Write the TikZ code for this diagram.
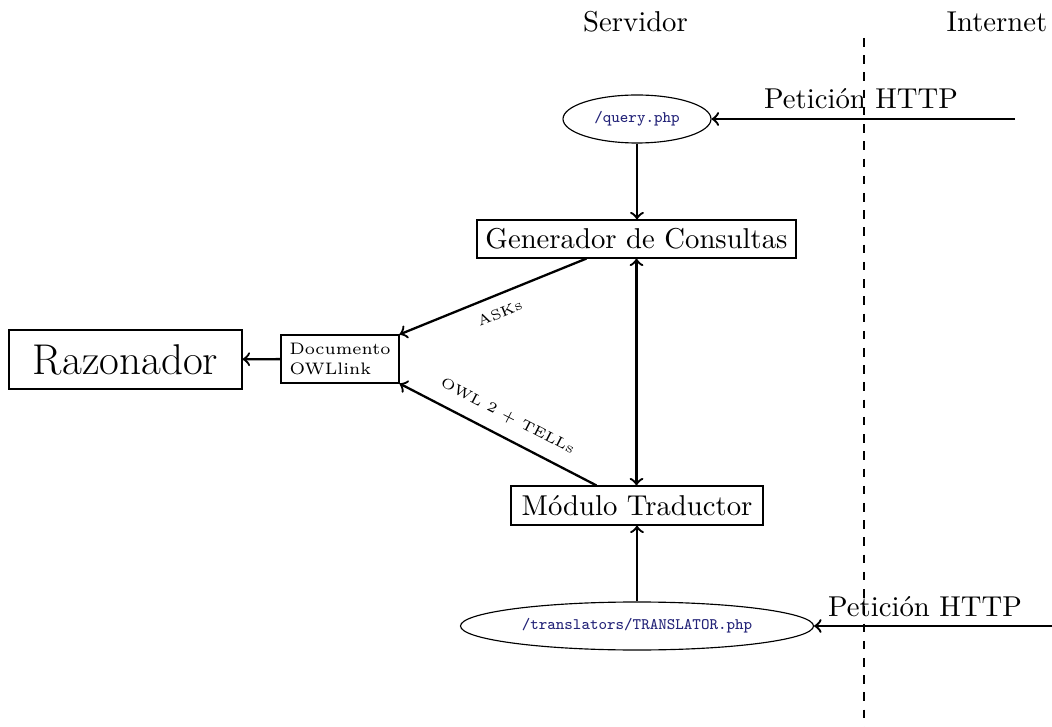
\documentclass[tikz,border=0pt]{standalone}
\usetikzlibrary{shapes.geometric}
\newdimen\pxu
\pxu=0.3484pt
\definecolor{urlblue}{RGB}{35,35,120}
\begin{document}
\begin{tikzpicture}[x=0.3484pt, y=-0.3484pt,
  lbl/.style={inner sep=0pt},
  box/.style={draw, inner sep=0pt},
  oval/.style={draw, ellipse, inner sep=0pt, font=\fontsize{5.6}{6.7}\selectfont\ttfamily, text=urlblue},
  arr/.style={thick, ->},
  biarr/.style={thick, <->},
  edgelbl/.style={font=\tiny, inner sep=1pt}]
\useasboundingbox (0,0) rectangle (1052,727);

% zone headings and the server/internet boundary
\node[lbl] (srv) at (635.5,22) {Servidor};
\node[lbl] (inet) at (997,22) {Internet};
\coordinate (dtop) at (864,38);
\coordinate (dbot) at (864,727);
\draw[thick, dash pattern=on 3pt off 3pt] (dtop) -- (dbot);

% entry points
\node[oval, minimum width=148\pxu, minimum height=48\pxu] (q) at (637,119) {/query.php};
\node[oval, minimum width=353\pxu, minimum height=48\pxu] (tr) at (637,626) {/translators/TRANSLATOR.php};

% incoming requests
\node[lbl] (pt1) at (861,99) {Petición HTTP};
\coordinate (in1) at (1015,119);
\draw[arr] (in1) -- (q);
\node[lbl] (pt2) at (925,607) {Petición HTTP};
\coordinate (in2) at (1052,626);
\draw[arr] (in2) -- (tr);

% processing modules
\node[box, minimum width=319\pxu, minimum height=38\pxu] (gen) at (636.5,239) {Generador de Consultas};
\node[box, minimum width=252\pxu, minimum height=39\pxu] (trad) at (637,505.5) {Módulo Traductor};
\node[box, minimum width=233\pxu, minimum height=59\pxu, font=\fontsize{15}{18}\selectfont] (raz) at (125.5,359.5) {Razonador};
\node[box, minimum width=118\pxu, minimum height=48\pxu, font=\fontsize{5.8}{7}\selectfont, align=left] (doc) at (340,359) {Documento\\OWLlink};

% flows
\draw[arr] (q.south) -- (q.south |- gen.north);
\draw[biarr] (gen.south) -- (gen.south |- trad.north);
\draw[arr] (tr.north) -- (trad.south);
\draw[arr] (doc) -- (raz);
\draw[arr] ([xshift=110\pxu]gen.south west) -- node[edgelbl, sloped, below=3pt] {ASKs} (doc.north east);
\draw[arr] ([xshift=86\pxu]trad.north west) -- node[edgelbl, sloped, above=3.5pt] {OWL 2 + TELLs} (doc.south east);
\end{tikzpicture}
\end{document}
